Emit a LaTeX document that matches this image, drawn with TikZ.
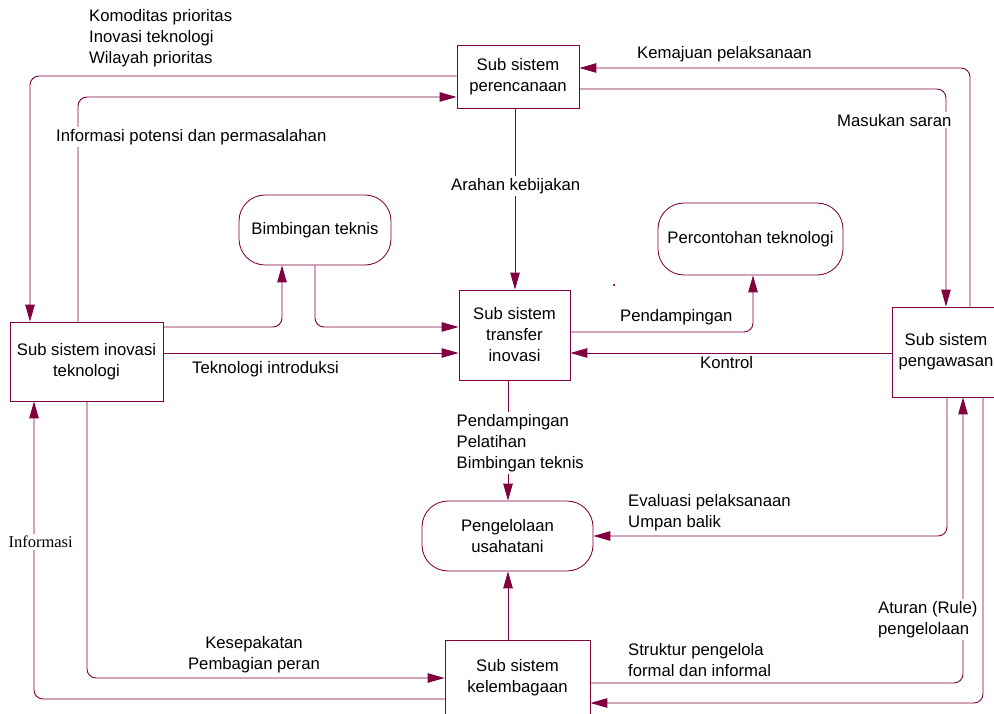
\documentclass[tikz,border=0pt]{standalone}
\usepackage{fontspec}
\setmainfont{Liberation Sans}
\newfontfamily\serifx{Liberation Serif}
\usetikzlibrary{arrows.meta}
\definecolor{mar}{RGB}{128,0,64}
\begin{document}
\begin{tikzpicture}[x=1pt,y=-1pt,
  every node/.style={font=\fontsize{16.7}{21}\selectfont, text=black},
  box/.style={draw=mar, line width=0.85pt, inner sep=0pt, align=center},
  pill/.style={draw=mar, line width=0.85pt, inner sep=0pt, align=center, rounded corners=26pt},
  flow/.style={draw=mar, line width=0.9pt, rounded corners=9pt, -{Triangle[length=17pt,width=9.5pt]}},
  lbl/.style={inner sep=2pt, anchor=north west, align=left},
  lblw/.style={lbl, fill=white},
  lblc/.style={inner sep=2pt, anchor=north, align=center}
]
\useasboundingbox (0,0) rectangle (994,714);

% main boxes
\node[box, minimum width=122pt, minimum height=63pt] (pr) at (518,76.5) {Sub sistem\\perencanaan};
\node[box, minimum width=111pt, minimum height=90pt] (tr) at (514.5,335) {Sub sistem\\transfer\\inovasi};
\node[box, minimum width=153pt, minimum height=79pt] (io) at (86.5,361.5) {Sub sistem inovasi\\teknologi};
\node[box, minimum width=108pt, minimum height=90pt] (pw) at (946,352) {Sub sistem\\pengawasan};
\node[box, minimum width=145pt, minimum height=75pt] (kl) at (517.5,677.5) {Sub sistem\\kelembagaan};

% rounded nodes
\node[pill, minimum width=152pt, minimum height=70pt] (bt) at (315,230) {Bimbingan teknis};
\node[pill, minimum width=185pt, minimum height=72pt] (pt) at (750.5,239) {Percontohan teknologi};
\node[pill, minimum width=171pt, minimum height=70pt] (pu) at (507.5,536) {Pengelolaan\\usahatani};

\node[circle, fill=mar, inner sep=0pt, minimum size=2.5pt] (dot) at (614,285) {};

% connectors
\draw[flow] (pr.west |- 0,76) -| (io.north -| 30,0);
\draw[flow] (io.north -| 78,0) |- (pr.west |- 0,97);
\draw[flow] (pw.north -| 970,0) |- (pr.east |- 0,68);
\draw[flow] (pr.east |- 0,89) -| (pw.north -| 946,0);
\draw[flow] (pr.south -| 515,0) -- (tr.north -| 515,0);
\draw[flow] (io.east |- 0,327) -| (bt.south -| 282,0);
\draw[flow] (bt.south -| 315,0) |- (tr.west |- 0,327);
\draw[flow] (io.east |- 0,353) -- (tr.west |- 0,353);
\draw[flow] (tr.east |- 0,332) -| (pt.south -| 753,0);
\draw[flow] (pw.west |- 0,353) -- (tr.east |- 0,353);
\draw[flow] (tr.south -| 508,0) -- (pu.north -| 508,0);
\draw[flow] (kl.north -| 508,0) -- (pu.south -| 508,0);
\draw[flow] (io.south -| 87,0) |- (kl.west |- 0,678);
\draw[flow] (kl.west |- 0,699) -| (io.south -| 34,0);
\draw[flow] (pw.south -| 947,0) |- (pu.east);
\draw[flow] (kl.east |- 0,683) -| (pw.south -| 963,0);
\draw[flow] (pw.south -| 983,0) |- (kl.east |- 0,703);

% labels
\node[lbl] (l1) at (87,7) {Komoditas prioritas\\Inovasi teknologi\\Wilayah prioritas};
\node[lblw] (l2) at (54,127) {Informasi potensi dan permasalahan};
\node[lbl] (l3) at (635,44) {Kemajuan pelaksanaan};
\node[lblw] (l4) at (835,112) {Masukan saran};
\node[lblw] (l5) at (449,176) {Arahan kebijakan};
\node[lbl] (l6) at (190,359) {Teknologi introduksi};
\node[lbl] (l7) at (618,307) {Pendampingan};
\node[lbl] (l8) at (698,354) {Kontrol};
\node[lblw] (l9) at (454.5,412) {Pendampingan\\Pelatihan\\Bimbingan teknis};
\node[lblc] (l10) at (254,634) {Kesepakatan\\Pembagian peran};
\node[lblw, font=\serifx\fontsize{16.5}{21}\selectfont] (l11) at (6.4,534) {Informasi};
\node[lbl] (l12) at (626,492) {Evaluasi pelaksanaan\\Umpan balik};
\node[lblw] (l13) at (876,599) {Aturan (Rule)\\pengelolaan};
\node[lbl] (l14) at (626,641) {Struktur pengelola\\formal dan informal};
\end{tikzpicture}
\end{document}
